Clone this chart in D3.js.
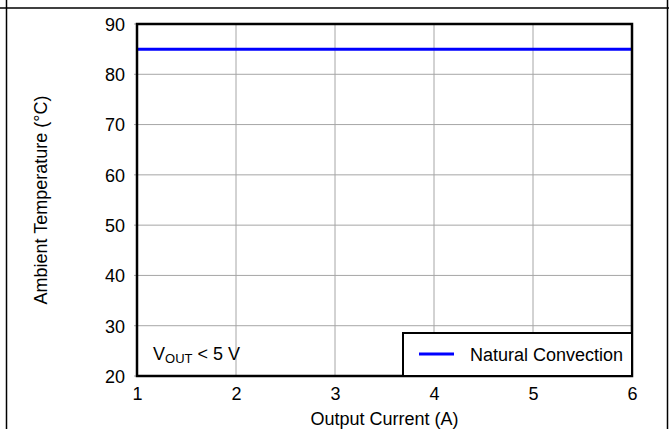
<!DOCTYPE html>
<html>
<head>
<meta charset="utf-8">
<script src="https://cdn.jsdelivr.net/npm/d3@7"></script>
<style>
  body { margin: 0; background: #fff; }
  text { font-family: "Liberation Sans", Arial, sans-serif; fill: #000; }
</style>
</head>
<body>
<div class="chart"></div>
<script>
// data
const currents = [1, 2, 3, 4, 5, 6];
const ambientTemp = [85, 85, 85, 85, 85, 85];
const xTicks = [1, 2, 3, 4, 5, 6];
const yTicks = [20, 30, 40, 50, 60, 70, 80, 90];
const seriesName = "Natural Convection";

const w = 669;
const h = 429;
const margin = {left: 137, top: 24, right: 37, bottom: 53};
const fs = 18;

const svg = d3.select('.chart')
                .append('svg')
                .attr('width', w)
                .attr('height', h);

// outer table cell lines
svg.append('line').attr('x1', 0).attr('x2', w).attr('y1', 8).attr('y2', 8)
    .attr('stroke', '#000').attr('stroke-width', 1.5);
svg.append('line').attr('x1', 6.5).attr('x2', 6.5).attr('y1', 0).attr('y2', h)
    .attr('stroke', '#000').attr('stroke-width', 1.5);
svg.append('line').attr('x1', 667.5).attr('x2', 667.5).attr('y1', 0).attr('y2', h)
    .attr('stroke', '#000').attr('stroke-width', 1.5);

const x = d3.scaleLinear().domain([1, 6]).range([margin.left, w - margin.right]);
const y = d3.scaleLinear().domain([20, 90]).range([h - margin.bottom, margin.top]);

//grid lines
svg.append('g')
    .selectAll('line')
    .data(xTicks)
    .enter()
    .append('line')
    .attr('x1', d => x(d)).attr('x2', d => x(d))
    .attr('y1', y(90)).attr('y2', y(20))
    .attr('stroke', '#a6a6a6').attr('stroke-width', 1);

svg.append('g')
    .selectAll('line')
    .data(yTicks)
    .enter()
    .append('line')
    .attr('x1', x(1) - 3).attr('x2', x(6))
    .attr('y1', d => y(d)).attr('y2', d => y(d))
    .attr('stroke', '#a6a6a6').attr('stroke-width', 1);

// axes, tick labels only
const xAxis = svg.append('g')
    .attr('transform', `translate(0,${y(20)})`)
    .call(d3.axisBottom(x).tickValues(xTicks).tickFormat(d3.format('d')).tickSize(0).tickPadding(0));
const yAxis = svg.append('g')
    .attr('transform', `translate(${x(1)},0)`)
    .call(d3.axisLeft(y).tickValues(yTicks).tickSize(0).tickPadding(12));
[xAxis, yAxis].forEach(a => {
    a.select('.domain').remove();
    a.attr('font-size', fs).attr('font-family', '"Liberation Sans", Arial, sans-serif');
    a.selectAll('text').attr('fill', '#000');
});
xAxis.selectAll('text').attr('y', 23.5).attr('dy', 0);
yAxis.selectAll('text').attr('dy', '0.35em');

// data line
const line = d3.line()
    .x((d, i) => x(currents[i]))
    .y(d => y(d));
svg.append('path')
    .datum(ambientTemp)
    .attr('d', line)
    .attr('fill', 'none')
    .attr('stroke', '#0000ff')
    .attr('stroke-width', 3);

// plot frame
svg.append('rect')
    .attr('x', x(1)).attr('y', y(90))
    .attr('width', x(6) - x(1)).attr('height', y(20) - y(90))
    .attr('fill', 'none').attr('stroke', '#000').attr('stroke-width', 2.5);

// annotation
const note = svg.append('text')
    .attr('x', 153).attr('y', 360)
    .attr('font-size', fs);
note.append('tspan').text('V');
note.append('tspan').attr('font-size', 13).attr('dy', 3).text('OUT');
note.append('tspan').attr('dy', -3).text(' < 5 V');

// legend
const lg = svg.append('g');
lg.append('rect')
    .attr('x', 403).attr('y', 333)
    .attr('width', x(6) - 403).attr('height', y(20) - 333)
    .attr('fill', '#fff').attr('stroke', '#000').attr('stroke-width', 2);
lg.append('line')
    .attr('x1', 419).attr('x2', 454).attr('y1', 354).attr('y2', 354)
    .attr('stroke', '#0000ff').attr('stroke-width', 3);
lg.append('text')
    .attr('x', 470).attr('y', 360.5)
    .attr('font-size', fs)
    .text(seriesName);

// axis titles
svg.append('text')
    .attr('x', x(3.5)).attr('y', 425)
    .attr('text-anchor', 'middle')
    .attr('font-size', fs)
    .text('Output Current (A)');
svg.append('text')
    .attr('transform', `translate(46.5,${(y(20) + y(90)) / 2}) rotate(-90)`)
    .attr('text-anchor', 'middle')
    .attr('font-size', fs)
    .text('Ambient Temperature (°C)');
</script>
</body>
</html>
